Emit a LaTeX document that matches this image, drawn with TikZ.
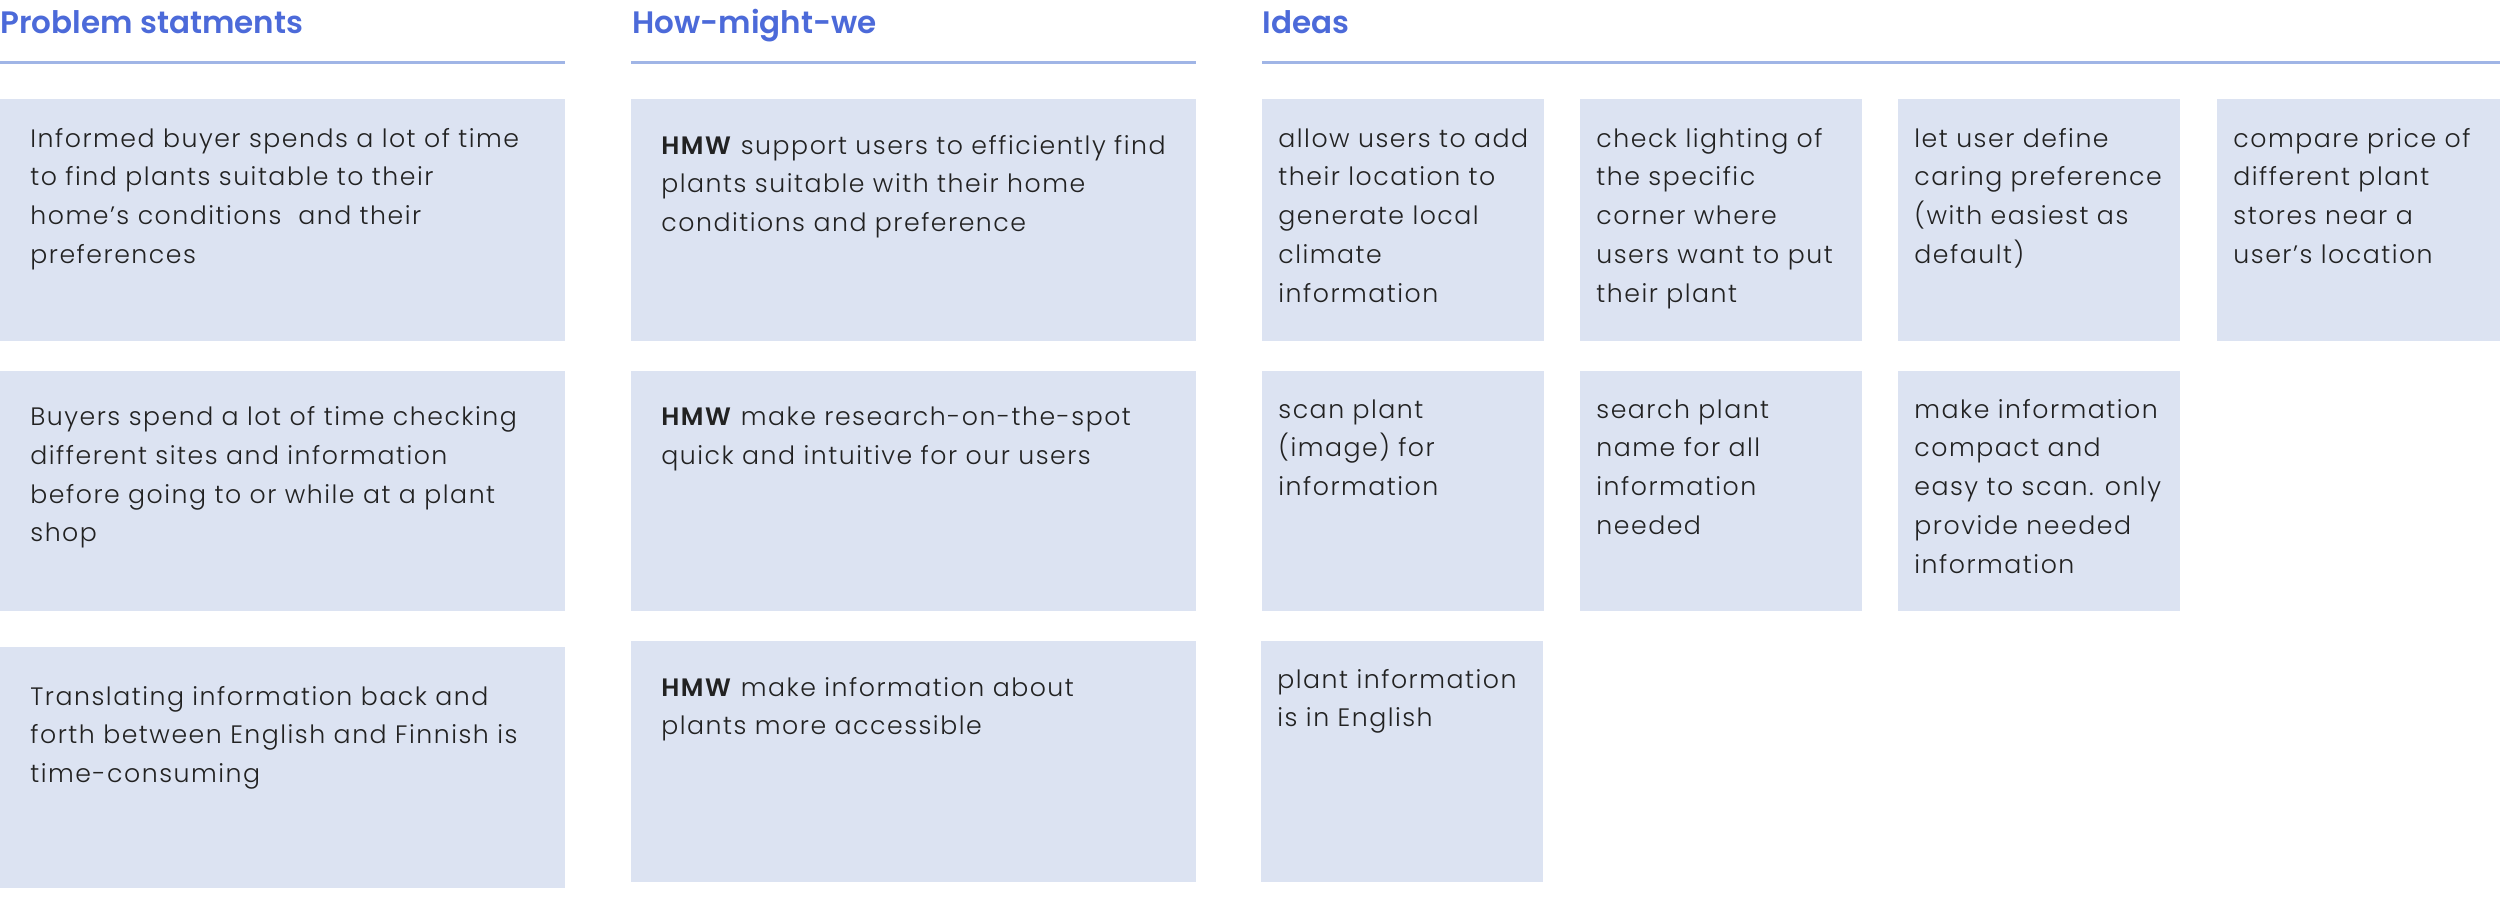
\documentclass[tikz,border=0pt]{standalone}
\usepackage{fontspec}
\setmainfont{Poppins}[UprightFont={* Light}, BoldFont={* SemiBold}]
\newfontfamily\headfont{Poppins}[UprightFont={* SemiBold}]
\definecolor{cardfill}{HTML}{DCE3F2}
\definecolor{headblue}{HTML}{4C6AD9}
\definecolor{rulecol}{HTML}{A0B5E6}
\definecolor{textcol}{HTML}{222222}
\tikzset{
  card/.style={fill=cardfill, draw=none, inner sep=0pt, anchor=north west, minimum height=#1*0.5pt},
  wide/.style={minimum width=282.5pt},
  narrow/.style={minimum width=141pt},
  cardtext/.style={anchor=base west, inner sep=0pt, text=textcol},
  head/.style={anchor=base west, inner sep=0pt, text=headblue, font=\headfont\fontsize{15.5pt}{18pt}\selectfont},
  headrule/.style={draw=rulecol, line width=1.3pt}
}
\newcommand{\cardfont}{\addfontfeatures{LetterSpace=6}\fontsize{12.6pt}{19.4pt}\selectfont}
\newcommand{\wtext}[1]{\parbox[t]{300pt}{\raggedright\cardfont #1}}
\newcommand{\ntext}[1]{\parbox[t]{150pt}{\raggedright\cardfont #1}}
\begin{document}
\begin{tikzpicture}[x=0.5pt,y=-0.5pt]
\useasboundingbox (0,0) rectangle (2500,921);
% headers
\node[head] (hps) at (0,33) {Problem statments};
\node[head] (hhmw) at (632,33) {How-might-we};
\node[head] (hid) at (1262,33) {Ideas};
\coordinate (r1a) at (0,62.5); \coordinate (r1b) at (565,62.5);
\coordinate (r2a) at (631,62.5); \coordinate (r2b) at (1196,62.5);
\coordinate (r3a) at (1262,62.5); \coordinate (r3b) at (2500,62.5);
\draw[headrule] (r1a) -- (r1b);
\draw[headrule] (r2a) -- (r2b);
\draw[headrule] (r3a) -- (r3b);
% problem statements
\node[card=242, wide] (ps1) at (0,99) {};
\node[card=240, wide] (ps2) at (0,371) {};
\node[card=241, wide] (ps3) at (0,647) {};
\node[cardtext] (tps1) at (30,147) {\wtext{Informed buyer spends a lot of time\\ to find plants suitable to their\\ home’s conditions \ and their\\ preferences}};
\node[cardtext] (tps2) at (30,425.5) {\wtext{Buyers spend a lot of time checking\\ different sites and information\\ before going to or while at a plant\\ shop}};
\node[cardtext] (tps3) at (30,705) {\wtext{Translating information back and\\ forth between English and Finnish is\\ time-consuming}};
% HMW
\node[card=242, wide] (hmw1) at (631,99) {};
\node[card=240, wide] (hmw2) at (631,371) {};
\node[card=241, wide] (hmw3) at (631,641) {};
\node[cardtext] (thmw1) at (661,154) {\wtext{\textbf{HMW} support users to efficiently find\\ plants suitable with their home\\ conditions and preference}};
\node[cardtext] (thmw2) at (661,425.5) {\wtext{\textbf{HMW} make research-on-the-spot\\ quick and intuitive for our users}};
\node[cardtext] (thmw3) at (661,696) {\wtext{\textbf{HMW} make information about\\ plants more accessible}};
% ideas
\node[card=242, narrow] (i1) at (1262,99) {};
\node[card=242, narrow] (i2) at (1580,99) {};
\node[card=242, narrow] (i3) at (1898,99) {};
\node[card=242, minimum width=141.5pt] (i4) at (2217,99) {};
\node[card=240, narrow] (i5) at (1262,371) {};
\node[card=240, narrow] (i6) at (1580,371) {};
\node[card=240, narrow] (i7) at (1898,371) {};
\node[card=241, narrow] (i8) at (1261,641) {};
\node[cardtext] (ti1) at (1278,147) {\ntext{allow users to add\\ their location to\\ generate local\\ climate\\ information}};
\node[cardtext] (ti2) at (1596,147) {\ntext{check lighting of\\ the specific\\ corner where\\ users want to put\\ their plant}};
\node[cardtext] (ti3) at (1914,147) {\ntext{let user define\\ caring preference\\ (with easiest as\\ default)}};
\node[cardtext] (ti4) at (2233,147) {\ntext{compare price of\\ different plant\\ stores near a\\ user’s location}};
\node[cardtext] (ti5) at (1278,418) {\ntext{scan plant\\ (image) for\\ information}};
\node[cardtext] (ti6) at (1596,418) {\ntext{search plant\\ name for all\\ information\\ needed}};
\node[cardtext] (ti7) at (1914,418) {\ntext{make information\\ compact and\\ easy to scan. only\\ provide needed\\ information}};
\node[cardtext] (ti8) at (1277,688) {\ntext{plant information\\ is in English}};
\end{tikzpicture}
\end{document}
